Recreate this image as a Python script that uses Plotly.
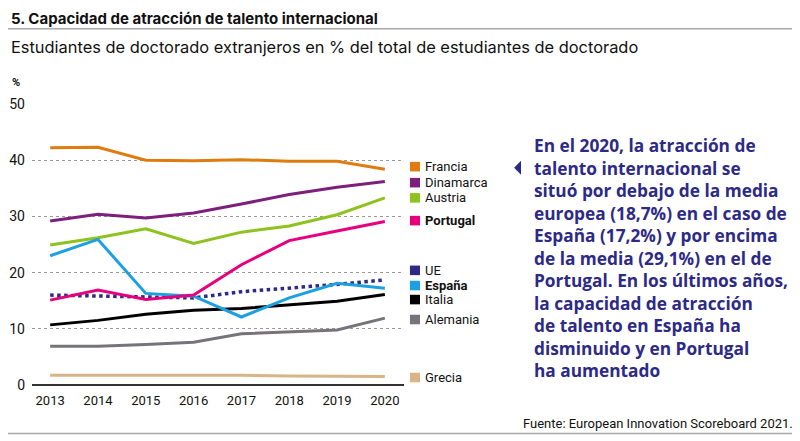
import plotly.graph_objects as go

# Estudiantes de doctorado extranjeros en % del total (European Innovation Scoreboard 2021)
years = [2013, 2014, 2015, 2016, 2017, 2018, 2019, 2020]

francia = [42.2, 42.3, 40.0, 39.9, 40.1, 39.8, 39.8, 38.4]
dinamarca = [29.2, 30.4, 29.7, 30.6, 32.2, 33.9, 35.2, 36.2]
austria = [24.9, 26.2, 27.8, 25.2, 27.2, 28.3, 30.3, 33.3]
portugal = [15.1, 16.9, 15.2, 16.0, 21.4, 25.7, 27.4, 29.1]
ue = [16.0, 15.8, 15.6, 15.5, 16.6, 17.2, 17.9, 18.7]
espana = [23.0, 25.9, 16.3, 15.8, 12.1, 15.5, 18.1, 17.2]
italia = [10.7, 11.5, 12.6, 13.3, 13.6, 14.2, 14.9, 16.1]
alemania = [6.9, 6.9, 7.2, 7.6, 9.1, 9.4, 9.8, 11.9]
grecia = [1.75, 1.75, 1.75, 1.75, 1.75, 1.6, 1.6, 1.5]

y_ticks = [0, 10, 20, 30, 40, 50]

# nombre, valores, color, negrita, posición de la etiqueta (en unidades del eje y)
series = [
    ("Francia", francia, "#E07B10", False, 38.85),
    ("Dinamarca", dinamarca, "#7D1F7C", False, 36.0),
    ("Austria", austria, "#8DC21F", False, 33.3),
    ("Portugal", portugal, "#E6007E", True, 29.25),
    ("UE", ue, "#2D2A87", False, 20.4),
    ("España", espana, "#1BA1E2", True, 17.7),
    ("Italia", italia, "#000000", False, 15.2),
    ("Alemania", alemania, "#77737A", False, 11.65),
    ("Grecia", grecia, "#D8B487", False, 1.33),
]

comment_lines = [
    "En el 2020, la atracción de",
    "talento internacional se",
    "situó por debajo de la media",
    "europea (18,7%) en el caso de",
    "España (17,2%) y por encima",
    "de la media (29,1%) en el de",
    "Portugal. En los últimos años,",
    "la capacidad de atracción",
    "de talento en España ha",
    "disminuido y en Portugal",
    "ha aumentado",
]

FONT = "Roboto"
HEAD_FONT = "Inter"
TEXT_COLOR = "#2D2A87"

fig = go.Figure()

# draw order: lighter lines first, highlighted ones on top
order = ["Grecia", "Alemania", "Italia", "Francia", "Dinamarca", "Austria", "UE", "España", "Portugal"]
lookup = {s[0]: s for s in series}
for name in order:
    _, vals, color, _, _ = lookup[name]
    if name == "UE":
        line = dict(color=color, width=3.5, dash="dot")
    else:
        line = dict(color=color, width=3)
    fig.add_trace(go.Scatter(x=years, y=vals, mode="lines", line=line, name=name))

# automargin off: the default template would otherwise push the plot area to the right
fig.update_xaxes(
    range=[2012.62, 2020.4],
    tickvals=years,
    showgrid=False,
    showline=False,
    zeroline=False,
    ticks="",
    automargin=False,
    ticklabelstandoff=6,
    tickfont=dict(family=FONT, size=13, color="#111"),
)

fig.update_yaxes(
    range=[0, 50],
    tickvals=y_ticks,
    showgrid=True,
    gridcolor="#9a9a9a",
    griddash="dot",
    gridwidth=1,
    zeroline=True,
    zerolinecolor="#333",
    zerolinewidth=1.5,
    ticks="",
    automargin=False,
    ticklabelstandoff=6,
    tickfont=dict(family=FONT, size=14, color="#111"),
)

annotations = []
shapes = []

# legend built by hand (squares + labels next to the lines)
for name, vals, color, bold, ypos in series:
    shapes.append(dict(type="rect", xref="paper", yref="y",
                       x0=1.016, x1=1.043, y0=ypos - 0.85, y1=ypos + 0.85,
                       fillcolor=color, line_width=0))
    label = f"<b>{name}</b>" if bold else name
    annotations.append(dict(text=label, xref="paper", yref="y", x=1.052, y=ypos,
                            xanchor="left", yanchor="middle", showarrow=False,
                            font=dict(family=FONT, size=13, color="#111")))

# comment text on the right, one line at a time (22.5 px apart)
for i, txt in enumerate(comment_lines):
    py = 146 + 22.5 * i
    annotations.append(dict(text=f"<b>{txt}</b>", xref="paper", yref="paper",
                            x=1.345, y=(385.5 - py) / 281.2, xanchor="left", yanchor="middle",
                            showarrow=False, font=dict(family="Open Sans", size=17.3, color=TEXT_COLOR)))

# title, subtitle, unit, source
annotations += [
    dict(text="<b>5. Capacidad de atracción de talento internacional</b>", xref="paper", yref="paper",
         x=-0.06, y=1.3425, xanchor="left", yanchor="top", borderpad=0, showarrow=False,
         font=dict(family=HEAD_FONT, size=15, color="#111")),
    dict(text="Estudiantes de doctorado extranjeros en % del total de estudiantes de doctorado",
         xref="paper", yref="paper", x=-0.062, y=1.204, xanchor="left", yanchor="middle",
         showarrow=False, font=dict(family=HEAD_FONT, size=16.4, color="#111")),
    dict(text="<b>%</b>", xref="paper", yref="paper", x=-0.058, y=1.076, xanchor="left",
         yanchor="middle", showarrow=False, font=dict(family=FONT, size=11, color="#111")),
    dict(text="Fuente: European Innovation Scoreboard 2021.", xref="paper", yref="paper",
         x=2.05, y=-0.137, xanchor="right", yanchor="middle", showarrow=False,
         font=dict(family=FONT, size=13, color="#111")),
]

# pointer triangle, separator lines under the title and at the bottom
shapes += [
    dict(type="path", xref="paper", yref="paper",
         path="M 1.3145,0.798 L 1.296,0.7735 L 1.3145,0.7486 Z",
         fillcolor=TEXT_COLOR, line_width=0),
    dict(type="line", xref="paper", yref="paper", x0=-0.07, x1=2.07, y0=1.268, y1=1.268,
         line=dict(color="#a8a8a8", width=1.5)),
    dict(type="line", xref="paper", yref="paper", x0=-0.07, x1=2.07, y0=-0.1725, y1=-0.1725,
         line=dict(color="#a8a8a8", width=1.5)),
]

# the page adds an 8px body margin, so the figure is 8px smaller than the window
fig.update_layout(
    width=792,
    height=433,
    margin=dict(l=24, r=396, t=96.3, b=55.5),
    paper_bgcolor="white",
    plot_bgcolor="white",
    showlegend=False,
    annotations=annotations,
    shapes=shapes,
)

fig.write_html("out.html")
